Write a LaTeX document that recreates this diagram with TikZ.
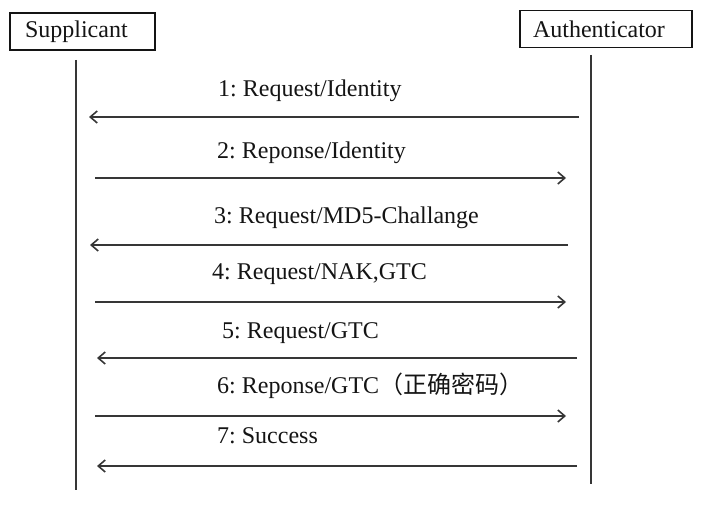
\documentclass[tikz,border=0pt]{standalone}
\usepackage{fontspec}
\setmainfont{Liberation Serif}
\newfontfamily\cjk{Noto Sans CJK SC}
\usetikzlibrary{arrows.meta}
\definecolor{ink}{HTML}{141414}
\definecolor{wire}{HTML}{363636}
\frenchspacing
\begin{document}
\begin{tikzpicture}[x=1pt,y=-1pt,
  actor/.style={draw=ink,line width=1.5pt,minimum height=37pt,inner ysep=0pt,
    align=left,font=\fontsize{24}{26}\selectfont,text=ink},
  lifeline/.style={draw=wire,line width=2pt},
  msg/.style={draw=wire,line width=1.6pt,-{Straight Barb[length=7pt,width=12pt,line width=1.6pt]}},
  msglabel/.style={anchor=base west,inner sep=0pt,font=\fontsize{24}{26}\selectfont,text=ink}]
\useasboundingbox (0,0) rectangle (708,505);

% participants
\node[actor,inner xsep=15pt,text width=115pt] (sup) at (82.5,31.5) {Supplicant};
\node[actor,inner xsep=13pt,text width=146pt] (auth) at (606,29) {Authenticator};

% lifelines
\coordinate (supTop) at (76,60);
\coordinate (supBot) at (76,490);
\coordinate (authTop) at (591,55);
\coordinate (authBot) at (591,484);
\draw[lifeline] (supTop) -- (supBot);
\draw[lifeline] (authTop) -- (authBot);

% message end points
\coordinate (a1) at (579,117); \coordinate (s1) at (89,117);
\coordinate (s2) at (95,178);  \coordinate (a2) at (566,178);
\coordinate (a3) at (568,245); \coordinate (s3) at (90,245);
\coordinate (s4) at (95,302);  \coordinate (a4) at (566,302);
\coordinate (a5) at (577,358); \coordinate (s5) at (97,358);
\coordinate (s6) at (95,416);  \coordinate (a6) at (566,416);
\coordinate (a7) at (577,466); \coordinate (s7) at (97,466);

% messages
\draw[msg] (a1) -- (s1);
\draw[msg] (s2) -- (a2);
\draw[msg] (a3) -- (s3);
\draw[msg] (s4) -- (a4);
\draw[msg] (a5) -- (s5);
\draw[msg] (s6) -- (a6);
\draw[msg] (a7) -- (s7);

% message labels
\node[msglabel] (l1) at (218,97) {1: Request/Identity};
\node[msglabel] (l2) at (217,158) {2: Reponse/Identity};
\node[msglabel] (l3) at (214,223) {3: Request/MD5-Challange};
\node[msglabel] (l4) at (212,279) {4: Request/NAK,GTC};
\node[msglabel] (l5) at (222,338) {5: Request/GTC};
\node[msglabel] (l6) at (217,393) {6: Reponse/GTC{\cjk （正确密码）}};
\node[msglabel] (l7) at (217,443) {7: Success};
\end{tikzpicture}
\end{document}
